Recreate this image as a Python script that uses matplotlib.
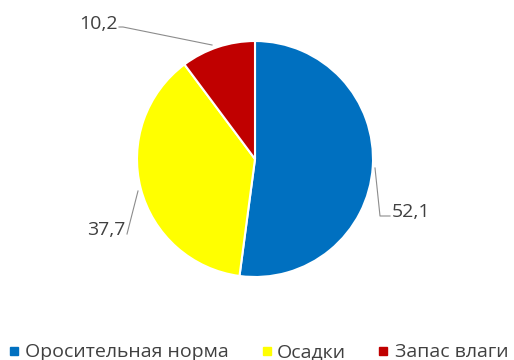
import matplotlib
matplotlib.use("Agg")
import matplotlib.pyplot as plt

categories = ["Оросительная норма", "Осадки", "Запас влаги"]
values = [52.1, 37.7, 10.2]
colors = ["#0070C0", "#FFFF00", "#C00000"]
value_labels = [f"{v:.1f}".replace(".", ",") for v in values]

plt.rcParams["font.family"] = ["Open Sans", "DejaVu Sans"]
text_color = "#404040"
line_color = "#8c8c8c"

W, H = 514, 360
fig = plt.figure(figsize=(W / 100, H / 100), dpi=100)
ax = fig.add_axes([0, 0, 1, 1])

cx, cy, r = 255, H - 159, 118
ax.pie(values, colors=colors, startangle=90, counterclock=False,
       center=(cx, cy), radius=r, frame=True,
       wedgeprops=dict(edgecolor="white", linewidth=1.5))
ax.set_xlim(0, W)
ax.set_ylim(0, H)
ax.set_aspect("equal")
ax.axis("off")

def Y(y):
    return H - y

# leader lines and value labels
ax.plot([375, 380, 390], [Y(168), Y(216), Y(216)], color=line_color, lw=0.8)
ax.text(392, Y(217), value_labels[0], ha="left", va="baseline",
        fontsize=14, color=text_color)
ax.plot([138, 127], [Y(191), Y(234)], color=line_color, lw=0.8)
ax.text(125, Y(235), value_labels[1], ha="right", va="baseline",
        fontsize=14, color=text_color)
ax.plot([212, 123, 119], [Y(45), Y(27), Y(27)], color=line_color, lw=0.8)
ax.text(118, Y(29), value_labels[2], ha="right", va="baseline",
        fontsize=14, color=text_color)

# legend row along the bottom
marker_x = [13.5, 266.5, 382.5]
text_x = [25, 277, 395]
for mx, tx, c, name in zip(marker_x, text_x, colors, categories):
    ax.plot([mx], [Y(350.5)], marker="s", markersize=5.2, color=c,
            linestyle="none")
    ax.text(tx, Y(357), name, ha="left", va="baseline", fontsize=14,
            color=text_color)

fig.savefig("out.png", dpi=100, facecolor="white")
